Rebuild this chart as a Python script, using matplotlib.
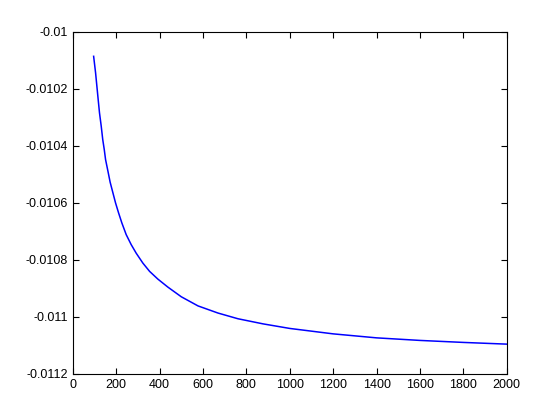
import matplotlib
matplotlib.use('Agg')
import matplotlib.pyplot as plt

# values
x = [96, 105, 111, 117, 123, 131, 138, 145, 151, 162, 172, 185, 197, 211,
     226, 246, 269, 292, 323, 354, 392, 438, 500, 577, 669, 761, 877, 1000,
     1200, 1400, 1600, 1800, 2000]
y = [-0.010087, -0.010145, -0.010192, -0.010239, -0.010285, -0.010332,
     -0.010379, -0.010414, -0.010449, -0.010490, -0.010528, -0.010566,
     -0.010601, -0.010636, -0.010671, -0.010712, -0.010747, -0.010777,
     -0.010812, -0.010841, -0.010868, -0.010896, -0.010930, -0.010962,
     -0.010987, -0.011007, -0.011025, -0.011041, -0.011060, -0.011074,
     -0.011083, -0.011090, -0.011096]

xticks = [0, 200, 400, 600, 800, 1000, 1200, 1400, 1600, 1800, 2000]
yticks = [-0.0112, -0.011, -0.0108, -0.0106, -0.0104, -0.0102, -0.01]
yticklabels = ['-0.0112', '-0.011', '-0.0108', '-0.0106', '-0.0104', '-0.0102', '-0.01']

plt.rcParams['font.family'] = ['Liberation Sans', 'DejaVu Sans']
plt.rcParams['axes.unicode_minus'] = False

fig = plt.figure(figsize=(5.6, 4.2), dpi=100)
ax = fig.add_axes([0.13, 0.11, 0.775, 0.815])
ax.plot(x, y, color='#0000ff', linewidth=1.1)

ax.set_xlim(0, 2000)
ax.set_ylim(-0.0112, -0.01)
ax.set_xticks(xticks)
ax.set_yticks(yticks)
ax.set_yticklabels(yticklabels)
ax.tick_params(direction='in', top=True, right=True, length=4, width=0.8,
               labelsize=9, colors='black')
for s in ax.spines.values():
    s.set_linewidth(0.8)

fig.savefig('out.png', dpi=100)
